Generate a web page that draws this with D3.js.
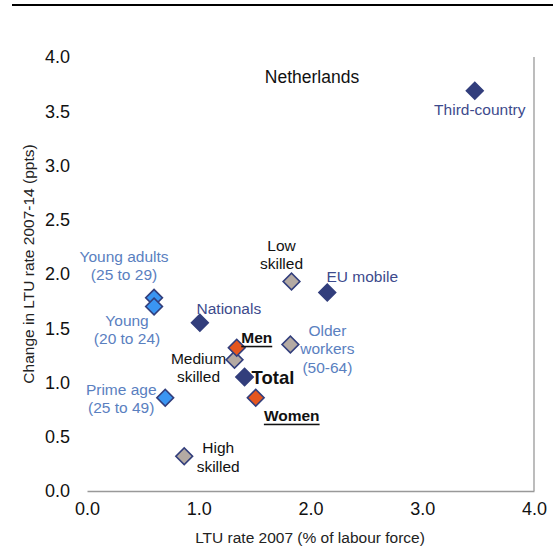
<!DOCTYPE html>
<html><head><meta charset="utf-8">
<script src="https://cdn.jsdelivr.net/npm/d3@7"></script>
<style>body{margin:0;background:#fff}svg{display:block;font-family:"Liberation Sans",Arial,sans-serif}</style>
</head><body><svg id="c" width="553" height="547"></svg>
<script>
// ---- data ----
const names = ["Third-country","EU mobile","Nationals","Young adults","Young","Prime age","Older workers","Low skilled","Medium skilled","High skilled","Men","Women","Total"];
const ltu2007 = [3.47,2.15,1.01,0.60,0.60,0.70,1.82,1.83,1.32,0.87,1.34,1.51,1.41];
const change0714 = [3.69,1.83,1.55,1.78,1.70,0.86,1.35,1.93,1.21,0.32,1.32,0.86,1.05];
const groups = ["origin","origin","origin","age","age","age","age","skill","skill","skill","gender","gender","total"];
const markerGroups = ["origin","origin","origin","age","age","age","skill","skill","skill","skill","gender","gender","total"];
const labelLines = [["Third-country"],["EU mobile"],["Nationals"],["Young adults","(25 to 29)"],["Young","(20 to 24)"],["Prime age","(25 to 49)"],["Older","workers","(50-64)"],["Low","skilled"],["Medium","skilled"],["High","skilled"],["Men"],["Women"],["Total"]];
const xTicks = [0,1,2,3,4];
const yTicks = [0,0.5,1,1.5,2,2.5,3,3.5,4];
const title = "Netherlands";
const xTitle = "LTU rate 2007 (% of labour force)";
const yTitle = "Change in LTU rate 2007-14 (ppts)";

// ---- styles / layout ----
const navy = "#323E7C";
const fillC = {origin:navy, age:"#3A95F2", skill:"#B4AAA3", gender:"#E5561F", total:navy};
const textC = {origin:"#3D4A8C", age:"#5A80BF", skill:"#111", gender:"#111", total:"#111"};
// label offsets relative to marker (dx, dy of first line centre), anchor
const labelPos = [
  [5,18,"middle"],[35,-16,"middle"],[29,-15,"middle"],[-30,-42,"middle"],[-27,13,"middle"],[-44,-9,"middle"],[37,-15,"middle"],[-10,-37,"middle"],[-36,-2,"middle"],[34,-9,"middle"],[20,-11,"middle"],[36,17,"middle"],[7,0,"start"]
];

const svg = d3.select("#c");
const x = d3.scaleLinear().domain([0,4]).range([87,534]);
const y = d3.scaleLinear().domain([0,4]).range([491,57]);

// top rule
svg.append("line").attr("x1",12).attr("x2",553).attr("y1",5).attr("y2",5).attr("stroke","#000").attr("stroke-width",2);

// right border
svg.append("line").attr("x1",x(4)).attr("x2",x(4)).attr("y1",y(4)).attr("y2",y(0)).attr("stroke","#999").attr("stroke-width",1.3);

const xa = svg.append("g").attr("transform",`translate(0,${y(0)})`)
  .call(d3.axisBottom(x).tickValues(xTicks).tickFormat(d3.format(".1f")).tickSize(0).tickPadding(11));
xa.select(".domain").attr("stroke","#999").attr("stroke-width",1.3);
xa.selectAll("text").attr("font-size",18).attr("fill","#111").attr("font-family","Liberation Sans, Arial, sans-serif");

const ya = svg.append("g").attr("transform",`translate(${x(0)},0)`)
  .call(d3.axisLeft(y).tickValues(yTicks).tickFormat(d3.format(".1f")).tickSize(0).tickPadding(17));
ya.select(".domain").remove();
ya.selectAll("text").attr("font-size",18).attr("fill","#111").attr("font-family","Liberation Sans, Arial, sans-serif");

svg.append("text").attr("x",312).attr("y",83).attr("text-anchor","middle").attr("font-size",17.5).attr("fill","#111").text(title);
svg.append("text").attr("x",310).attr("y",543).attr("text-anchor","middle").attr("font-size",15.5).attr("fill","#222").text(xTitle);
svg.append("text").attr("transform","translate(34,264) rotate(-90)").attr("text-anchor","middle").attr("font-size",15.5).attr("fill","#222").text(yTitle);

const pts = names.map((n,i)=>({n,x:ltu2007[i],y:change0714[i],g:groups[i],mg:markerGroups[i],lines:labelLines[i],lp:labelPos[i]}));

// markers
svg.append("g").selectAll("path").data(pts).join("path")
  .attr("d",d3.symbol().type(d3.symbolSquare).size(d=>d.g==="total"?150:140))
  .attr("transform",d=>`translate(${x(d.x)},${y(d.y)}) rotate(45)`)
  .attr("fill",d=>fillC[d.mg]).attr("stroke",navy).attr("stroke-width",1.6);

// labels
const lg = svg.append("g");
pts.forEach(d=>{
  const bold = d.g==="gender"||d.g==="total";
  const t = lg.append("text")
    .attr("x",x(d.x)+d.lp[0]).attr("y",y(d.y)+d.lp[1])
    .attr("text-anchor",d.lp[2]).attr("dominant-baseline","central")
    .attr("fill",textC[d.g])
    .attr("font-size",d.g==="total"?18.5:15.5)
    .attr("font-weight",bold?"bold":"normal")
    .attr("text-decoration",d.g==="gender"?"underline":null);
  d.lines.forEach((l,k)=>t.append("tspan").attr("x",x(d.x)+d.lp[0]).attr("dy",k===0?0:18.5).text(l));
});
</script></body></html>
